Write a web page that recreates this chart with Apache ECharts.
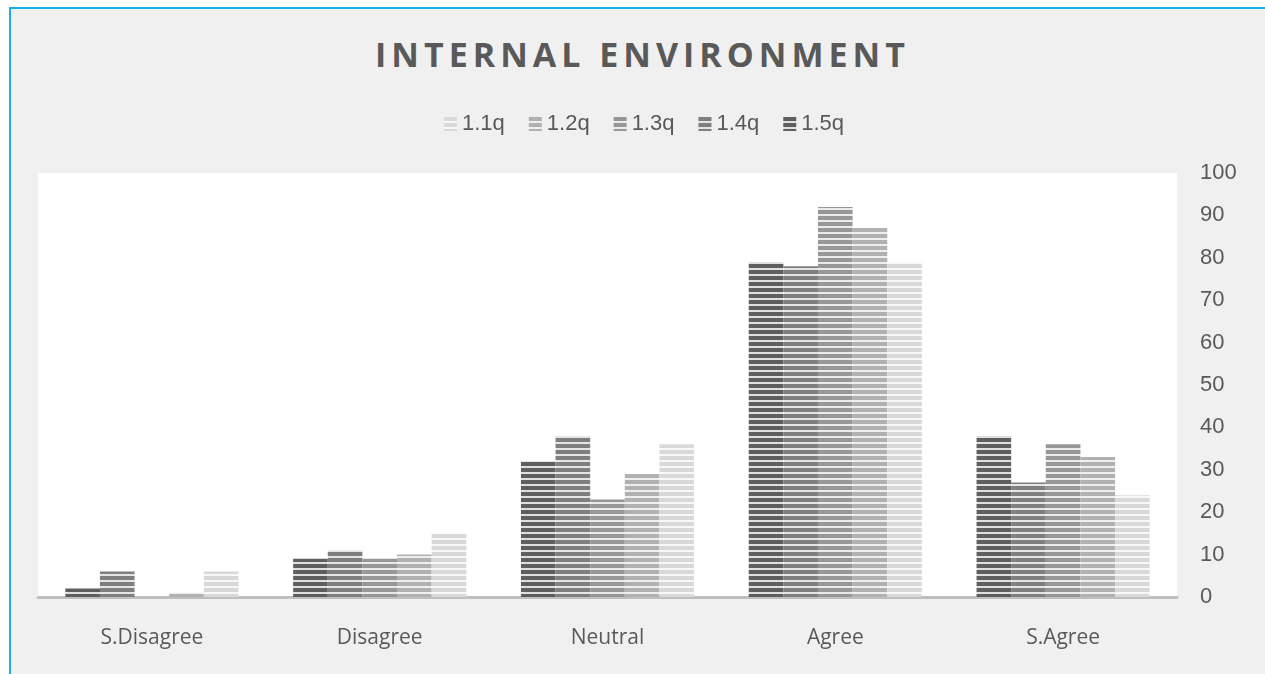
<!DOCTYPE html>
<html>
<head>
<meta charset="utf-8">
<title>Internal Environment</title>
<script src="https://cdn.jsdelivr.net/npm/echarts@6/dist/echarts.min.js"></script>
<style>
  html, body { margin: 0; padding: 0; background: #ffffff; width: 1265px; height: 674px; overflow: hidden; }
  #frame {
    position: absolute; left: 9px; top: 7px; width: 1300px; height: 700px;
    background: #f0f0f0; border-left: 2px solid #14b1e7; border-top: 2px solid #14b1e7;
  }
  #title {
    position: absolute; left: 0; top: 37px; width: 1280px; text-align: center;
    font-family: "Open Sans", sans-serif; font-weight: bold; font-size: 34px; line-height: 34px;
    letter-spacing: 5px; padding-left: 5px; box-sizing: border-box; color: #595959;
  }
  #chart { position: absolute; left: 0; top: 0; width: 1265px; height: 674px; }
</style>
</head>
<body>
<div id="frame"></div>
<div id="title">INTERNAL ENVIRONMENT</div>
<div id="chart"></div>
<script>
// Survey responses per answer category
const categories = ['S.Disagree', 'Disagree', 'Neutral', 'Agree', 'S.Agree'];
const q11 = [6, 15, 36, 79, 24];
const q12 = [1, 10, 29, 87, 33];
const q13 = [0, 9, 23, 92, 36];
const q14 = [6, 11, 38, 78, 27];
const q15 = [2, 9, 32, 79, 38];
const legendOrder = ['1.1q', '1.2q', '1.3q', '1.4q', '1.5q'];

// Horizontal striped fill: solid band with a light line every 6px
function stripes(base) {
  const c = document.createElement('canvas');
  c.width = 8; c.height = 6;
  const g = c.getContext('2d');
  g.fillStyle = base;
  g.fillRect(0, 0, 8, 6);
  g.fillStyle = 'rgba(255,255,255,0.8)';
  g.fillRect(0, 4, 8, 2);
  return { image: c, repeat: 'repeat' };
}

function bar(name, data, base) {
  return {
    name: name,
    type: 'bar',
    data: data,
    barGap: '0%',
    barCategoryGap: '24%',
    itemStyle: { color: stripes(base) }
  };
}

const chart = echarts.init(document.getElementById('chart'), null, { renderer: 'canvas' });
chart.setOption({
  backgroundColor: 'transparent',
  animation: false,
  legend: {
    data: legendOrder,
    icon: 'rect',
    top: 108,
    left: 439,
    itemWidth: 13,
    itemHeight: 14,
    itemGap: 24,
    textStyle: { fontFamily: 'Liberation Sans, Arial, sans-serif', fontSize: 22, color: '#595959' }
  },
  grid: {
    left: 38, right: 88, top: 173, bottom: 77,
    show: true, backgroundColor: '#ffffff', borderWidth: 0
  },
  xAxis: {
    type: 'category',
    data: categories,
    axisLine: { lineStyle: { color: '#bfbfbf', width: 3 } },
    axisTick: { show: false },
    axisLabel: { fontFamily: 'Open Sans, sans-serif', fontSize: 21, color: '#595959', margin: 31 }
  },
  yAxis: {
    type: 'value',
    position: 'right',
    min: 0, max: 100, interval: 10,
    splitLine: { show: false },
    axisLine: { show: false },
    axisTick: { show: false },
    axisLabel: { fontFamily: 'Liberation Sans, Arial, sans-serif', fontSize: 22, color: '#595959', margin: 23 }
  },
  series: [
    bar('1.5q', q15, '#5e5e5e'),
    bar('1.4q', q14, '#7f7f7f'),
    bar('1.3q', q13, '#979797'),
    bar('1.2q', q12, '#b1b1b1'),
    bar('1.1q', q11, '#d9d9d9')
  ]
});
</script>
</body>
</html>
